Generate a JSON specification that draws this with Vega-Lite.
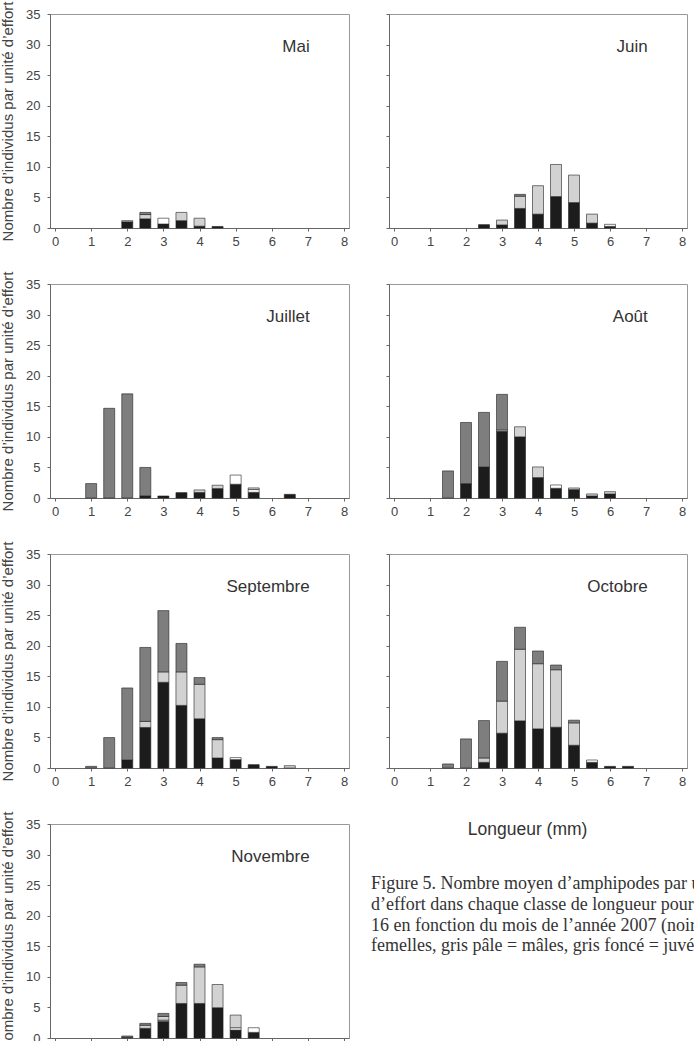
{
  "$schema": "https://vega.github.io/schema/vega-lite/v6.json",
  "background": "white",
  "padding": {"left": 0, "top": 0, "right": 0, "bottom": 0},
  "config": {
    "font": "Liberation Sans",
    "view": {"stroke": "#999", "strokeWidth": 1},
    "axis": {"labelFont": "Liberation Sans", "labelFontSize": 13, "labelColor": "#444", "labelOverlap": false, "labelFlush": false, "tickColor": "#666", "domainColor": "#666", "grid": false, "tickSize": 3, "labelPadding": 7, "titleFont": "Liberation Sans", "titleFontSize": 15, "titleFontWeight": "normal", "titleColor": "#444", "titlePadding": 10},
    "axisX": {"labelPadding": 4}
  },
  "data": {"values": [
    {"mois": "Mai", "longueur": 2.0, "groupe": "femelles", "n": 1.0},
    {"mois": "Mai", "longueur": 2.0, "groupe": "mâles", "n": 0.2},
    {"mois": "Mai", "longueur": 2.5, "groupe": "femelles", "n": 1.5},
    {"mois": "Mai", "longueur": 2.5, "groupe": "mâles", "n": 0.7},
    {"mois": "Mai", "longueur": 2.5, "groupe": "juvéniles", "n": 0.35},
    {"mois": "Mai", "longueur": 3.0, "groupe": "femelles", "n": 0.65},
    {"mois": "Mai", "longueur": 3.0, "groupe": "indéterminés", "n": 0.95},
    {"mois": "Mai", "longueur": 3.5, "groupe": "femelles", "n": 1.2},
    {"mois": "Mai", "longueur": 3.5, "groupe": "mâles", "n": 1.35},
    {"mois": "Mai", "longueur": 4.0, "groupe": "femelles", "n": 0.3},
    {"mois": "Mai", "longueur": 4.0, "groupe": "mâles", "n": 1.3},
    {"mois": "Mai", "longueur": 4.5, "groupe": "femelles", "n": 0.25},

    {"mois": "Juin", "longueur": 2.5, "groupe": "femelles", "n": 0.55},
    {"mois": "Juin", "longueur": 3.0, "groupe": "femelles", "n": 0.5},
    {"mois": "Juin", "longueur": 3.0, "groupe": "mâles", "n": 0.8},
    {"mois": "Juin", "longueur": 3.5, "groupe": "femelles", "n": 3.2},
    {"mois": "Juin", "longueur": 3.5, "groupe": "mâles", "n": 2.0},
    {"mois": "Juin", "longueur": 3.5, "groupe": "juvéniles", "n": 0.3},
    {"mois": "Juin", "longueur": 4.0, "groupe": "femelles", "n": 2.27},
    {"mois": "Juin", "longueur": 4.0, "groupe": "mâles", "n": 4.65},
    {"mois": "Juin", "longueur": 4.5, "groupe": "femelles", "n": 5.14},
    {"mois": "Juin", "longueur": 4.5, "groupe": "mâles", "n": 5.25},
    {"mois": "Juin", "longueur": 5.0, "groupe": "femelles", "n": 4.16},
    {"mois": "Juin", "longueur": 5.0, "groupe": "mâles", "n": 4.5},
    {"mois": "Juin", "longueur": 5.5, "groupe": "femelles", "n": 0.8},
    {"mois": "Juin", "longueur": 5.5, "groupe": "mâles", "n": 1.47},
    {"mois": "Juin", "longueur": 6.0, "groupe": "femelles", "n": 0.27},
    {"mois": "Juin", "longueur": 6.0, "groupe": "indéterminés", "n": 0.33},

    {"mois": "Juillet", "longueur": 1.0, "groupe": "juvéniles", "n": 2.36},
    {"mois": "Juillet", "longueur": 1.5, "groupe": "juvéniles", "n": 14.67},
    {"mois": "Juillet", "longueur": 2.0, "groupe": "juvéniles", "n": 17.03},
    {"mois": "Juillet", "longueur": 2.5, "groupe": "femelles", "n": 0.35},
    {"mois": "Juillet", "longueur": 2.5, "groupe": "juvéniles", "n": 4.65},
    {"mois": "Juillet", "longueur": 3.0, "groupe": "femelles", "n": 0.33},
    {"mois": "Juillet", "longueur": 3.5, "groupe": "femelles", "n": 0.88},
    {"mois": "Juillet", "longueur": 4.0, "groupe": "femelles", "n": 0.9},
    {"mois": "Juillet", "longueur": 4.0, "groupe": "mâles", "n": 0.42},
    {"mois": "Juillet", "longueur": 4.5, "groupe": "femelles", "n": 1.54},
    {"mois": "Juillet", "longueur": 4.5, "groupe": "mâles", "n": 0.55},
    {"mois": "Juillet", "longueur": 5.0, "groupe": "femelles", "n": 2.25},
    {"mois": "Juillet", "longueur": 5.0, "groupe": "indéterminés", "n": 1.5},
    {"mois": "Juillet", "longueur": 5.5, "groupe": "femelles", "n": 0.93},
    {"mois": "Juillet", "longueur": 5.5, "groupe": "indéterminés", "n": 0.45},
    {"mois": "Juillet", "longueur": 5.5, "groupe": "mâles", "n": 0.27},
    {"mois": "Juillet", "longueur": 6.5, "groupe": "femelles", "n": 0.6},

    {"mois": "Août", "longueur": 1.5, "groupe": "juvéniles", "n": 4.43},
    {"mois": "Août", "longueur": 2.0, "groupe": "femelles", "n": 2.35},
    {"mois": "Août", "longueur": 2.0, "groupe": "juvéniles", "n": 10.0},
    {"mois": "Août", "longueur": 2.5, "groupe": "femelles", "n": 5.08},
    {"mois": "Août", "longueur": 2.5, "groupe": "juvéniles", "n": 8.92},
    {"mois": "Août", "longueur": 3.0, "groupe": "femelles", "n": 10.93},
    {"mois": "Août", "longueur": 3.0, "groupe": "indéterminés", "n": 0.2},
    {"mois": "Août", "longueur": 3.0, "groupe": "juvéniles", "n": 5.82},
    {"mois": "Août", "longueur": 3.5, "groupe": "femelles", "n": 10.0},
    {"mois": "Août", "longueur": 3.5, "groupe": "mâles", "n": 1.65},
    {"mois": "Août", "longueur": 4.0, "groupe": "femelles", "n": 3.34},
    {"mois": "Août", "longueur": 4.0, "groupe": "mâles", "n": 1.74},
    {"mois": "Août", "longueur": 4.5, "groupe": "femelles", "n": 1.59},
    {"mois": "Août", "longueur": 4.5, "groupe": "indéterminés", "n": 0.54},
    {"mois": "Août", "longueur": 5.0, "groupe": "femelles", "n": 1.37},
    {"mois": "Août", "longueur": 5.0, "groupe": "mâles", "n": 0.27},
    {"mois": "Août", "longueur": 5.5, "groupe": "femelles", "n": 0.33},
    {"mois": "Août", "longueur": 5.5, "groupe": "mâles", "n": 0.33},
    {"mois": "Août", "longueur": 6.0, "groupe": "femelles", "n": 0.66},
    {"mois": "Août", "longueur": 6.0, "groupe": "mâles", "n": 0.38},

    {"mois": "Septembre", "longueur": 1.0, "groupe": "juvéniles", "n": 0.27},
    {"mois": "Septembre", "longueur": 1.5, "groupe": "juvéniles", "n": 4.98},
    {"mois": "Septembre", "longueur": 2.0, "groupe": "femelles", "n": 1.31},
    {"mois": "Septembre", "longueur": 2.0, "groupe": "juvéniles", "n": 11.78},
    {"mois": "Septembre", "longueur": 2.5, "groupe": "femelles", "n": 6.63},
    {"mois": "Septembre", "longueur": 2.5, "groupe": "mâles", "n": 0.99},
    {"mois": "Septembre", "longueur": 2.5, "groupe": "juvéniles", "n": 12.1},
    {"mois": "Septembre", "longueur": 3.0, "groupe": "femelles", "n": 14.02},
    {"mois": "Septembre", "longueur": 3.0, "groupe": "mâles", "n": 1.7},
    {"mois": "Septembre", "longueur": 3.0, "groupe": "juvéniles", "n": 10.02},
    {"mois": "Septembre", "longueur": 3.5, "groupe": "femelles", "n": 10.24},
    {"mois": "Septembre", "longueur": 3.5, "groupe": "mâles", "n": 5.48},
    {"mois": "Septembre", "longueur": 3.5, "groupe": "juvéniles", "n": 4.65},
    {"mois": "Septembre", "longueur": 4.0, "groupe": "femelles", "n": 8.05},
    {"mois": "Septembre", "longueur": 4.0, "groupe": "mâles", "n": 5.64},
    {"mois": "Septembre", "longueur": 4.0, "groupe": "juvéniles", "n": 1.1},
    {"mois": "Septembre", "longueur": 4.5, "groupe": "femelles", "n": 1.64},
    {"mois": "Septembre", "longueur": 4.5, "groupe": "mâles", "n": 3.0},
    {"mois": "Septembre", "longueur": 4.5, "groupe": "juvéniles", "n": 0.34},
    {"mois": "Septembre", "longueur": 5.0, "groupe": "femelles", "n": 1.37},
    {"mois": "Septembre", "longueur": 5.0, "groupe": "indéterminés", "n": 0.33},
    {"mois": "Septembre", "longueur": 5.5, "groupe": "femelles", "n": 0.55},
    {"mois": "Septembre", "longueur": 6.0, "groupe": "femelles", "n": 0.27},
    {"mois": "Septembre", "longueur": 6.5, "groupe": "mâles", "n": 0.38},

    {"mois": "Octobre", "longueur": 1.5, "groupe": "juvéniles", "n": 0.66},
    {"mois": "Octobre", "longueur": 2.0, "groupe": "juvéniles", "n": 4.76},
    {"mois": "Octobre", "longueur": 2.5, "groupe": "femelles", "n": 0.93},
    {"mois": "Octobre", "longueur": 2.5, "groupe": "mâles", "n": 0.71},
    {"mois": "Octobre", "longueur": 2.5, "groupe": "juvéniles", "n": 6.12},
    {"mois": "Octobre", "longueur": 3.0, "groupe": "femelles", "n": 5.69},
    {"mois": "Octobre", "longueur": 3.0, "groupe": "mâles", "n": 5.25},
    {"mois": "Octobre", "longueur": 3.0, "groupe": "juvéniles", "n": 6.5},
    {"mois": "Octobre", "longueur": 3.5, "groupe": "femelles", "n": 7.71},
    {"mois": "Octobre", "longueur": 3.5, "groupe": "mâles", "n": 11.71},
    {"mois": "Octobre", "longueur": 3.5, "groupe": "juvéniles", "n": 3.6},
    {"mois": "Octobre", "longueur": 4.0, "groupe": "femelles", "n": 6.4},
    {"mois": "Octobre", "longueur": 4.0, "groupe": "mâles", "n": 10.66},
    {"mois": "Octobre", "longueur": 4.0, "groupe": "juvéniles", "n": 2.08},
    {"mois": "Octobre", "longueur": 4.5, "groupe": "femelles", "n": 6.67},
    {"mois": "Octobre", "longueur": 4.5, "groupe": "mâles", "n": 9.4},
    {"mois": "Octobre", "longueur": 4.5, "groupe": "juvéniles", "n": 0.77},
    {"mois": "Octobre", "longueur": 5.0, "groupe": "femelles", "n": 3.72},
    {"mois": "Octobre", "longueur": 5.0, "groupe": "mâles", "n": 3.66},
    {"mois": "Octobre", "longueur": 5.0, "groupe": "juvéniles", "n": 0.44},
    {"mois": "Octobre", "longueur": 5.5, "groupe": "femelles", "n": 0.93},
    {"mois": "Octobre", "longueur": 5.5, "groupe": "indéterminés", "n": 0.38},
    {"mois": "Octobre", "longueur": 6.0, "groupe": "femelles", "n": 0.27},
    {"mois": "Octobre", "longueur": 6.5, "groupe": "femelles", "n": 0.27},

    {"mois": "Novembre", "longueur": 2.0, "groupe": "femelles", "n": 0.1},
    {"mois": "Novembre", "longueur": 2.0, "groupe": "juvéniles", "n": 0.23},
    {"mois": "Novembre", "longueur": 2.5, "groupe": "femelles", "n": 1.58},
    {"mois": "Novembre", "longueur": 2.5, "groupe": "mâles", "n": 0.5},
    {"mois": "Novembre", "longueur": 2.5, "groupe": "juvéniles", "n": 0.31},
    {"mois": "Novembre", "longueur": 3.0, "groupe": "femelles", "n": 2.72},
    {"mois": "Novembre", "longueur": 3.0, "groupe": "indéterminés", "n": 0.2},
    {"mois": "Novembre", "longueur": 3.0, "groupe": "mâles", "n": 0.6},
    {"mois": "Novembre", "longueur": 3.0, "groupe": "juvéniles", "n": 0.5},
    {"mois": "Novembre", "longueur": 3.5, "groupe": "femelles", "n": 5.65},
    {"mois": "Novembre", "longueur": 3.5, "groupe": "mâles", "n": 2.99},
    {"mois": "Novembre", "longueur": 3.5, "groupe": "juvéniles", "n": 0.44},
    {"mois": "Novembre", "longueur": 4.0, "groupe": "femelles", "n": 5.65},
    {"mois": "Novembre", "longueur": 4.0, "groupe": "mâles", "n": 5.98},
    {"mois": "Novembre", "longueur": 4.0, "groupe": "juvéniles", "n": 0.44},
    {"mois": "Novembre", "longueur": 4.5, "groupe": "femelles", "n": 4.95},
    {"mois": "Novembre", "longueur": 4.5, "groupe": "mâles", "n": 3.8},
    {"mois": "Novembre", "longueur": 5.0, "groupe": "femelles", "n": 1.3},
    {"mois": "Novembre", "longueur": 5.0, "groupe": "indéterminés", "n": 0.38},
    {"mois": "Novembre", "longueur": 5.0, "groupe": "mâles", "n": 2.07},
    {"mois": "Novembre", "longueur": 5.5, "groupe": "femelles", "n": 0.92},
    {"mois": "Novembre", "longueur": 5.5, "groupe": "indéterminés", "n": 0.76}
  ]},
  "transform": [
    {"calculate": "indexof(['femelles','indéterminés','mâles','juvéniles'], datum.groupe)", "as": "rang"}
  ],
  "columns": 2,
  "bounds": "flush",
  "spacing": {"row": 56, "column": 40},
  "concat": [
    {"width": 299, "height": 214, "transform": [{"filter": "datum.mois === 'Mai'"}], "layer": [
      {"mark": {"type": "bar", "width": 11, "stroke": "#222", "strokeWidth": 0.6},
       "encoding": {
         "x": {"field": "longueur", "type": "quantitative", "scale": {"domain": [0, 8], "nice": false, "zero": false}, "axis": {"values": [0,1,2,3,4,5,6,7,8], "tickCount": 20, "format": "d", "title": null, "labelOverlap": false}},
         "y": {"field": "n", "type": "quantitative", "stack": "zero", "scale": {"domain": [0, 35], "nice": false}, "axis": {"values": [0,5,10,15,20,25,30,35], "tickCount": 20, "format": "d", "labelOverlap": false, "title": "Nombre d’individus par unité d’effort"}},
         "color": {"field": "groupe", "type": "nominal", "scale": {"domain": ["femelles","indéterminés","mâles","juvéniles"], "range": ["#1c1c1c","#ffffff","#d2d2d2","#7e7e7e"]}, "legend": null},
         "order": {"field": "rang", "type": "quantitative"}}},
      {"data": {"values": [{}]}, "mark": {"type": "text", "text": "Mai", "align": "right", "baseline": "middle", "fontSize": 17, "color": "#333"},
       "encoding": {"x": {"datum": 7.05, "type": "quantitative"}, "y": {"datum": 29.6, "type": "quantitative"}}}
    ]},
    {"width": 298, "height": 214, "transform": [{"filter": "datum.mois === 'Juin'"}], "layer": [
      {"mark": {"type": "bar", "width": 11, "stroke": "#222", "strokeWidth": 0.6},
       "encoding": {
         "x": {"field": "longueur", "type": "quantitative", "scale": {"domain": [0, 8], "nice": false, "zero": false}, "axis": {"values": [0,1,2,3,4,5,6,7,8], "tickCount": 20, "format": "d", "title": null, "labelOverlap": false}},
         "y": {"field": "n", "type": "quantitative", "stack": "zero", "scale": {"domain": [0, 35], "nice": false}, "axis": {"values": [0,5,10,15,20,25,30,35], "tickCount": 20, "title": null, "labels": false}},
         "color": {"field": "groupe", "type": "nominal", "scale": {"domain": ["femelles","indéterminés","mâles","juvéniles"], "range": ["#1c1c1c","#ffffff","#d2d2d2","#7e7e7e"]}, "legend": null},
         "order": {"field": "rang", "type": "quantitative"}}},
      {"data": {"values": [{}]}, "mark": {"type": "text", "text": "Juin", "align": "right", "baseline": "middle", "fontSize": 17, "color": "#333"},
       "encoding": {"x": {"datum": 7.05, "type": "quantitative"}, "y": {"datum": 29.6, "type": "quantitative"}}}
    ]},
    {"width": 299, "height": 214, "transform": [{"filter": "datum.mois === 'Juillet'"}], "layer": [
      {"mark": {"type": "bar", "width": 11, "stroke": "#222", "strokeWidth": 0.6},
       "encoding": {
         "x": {"field": "longueur", "type": "quantitative", "scale": {"domain": [0, 8], "nice": false, "zero": false}, "axis": {"values": [0,1,2,3,4,5,6,7,8], "tickCount": 20, "format": "d", "title": null, "labelOverlap": false}},
         "y": {"field": "n", "type": "quantitative", "stack": "zero", "scale": {"domain": [0, 35], "nice": false}, "axis": {"values": [0,5,10,15,20,25,30,35], "tickCount": 20, "format": "d", "labelOverlap": false, "title": "Nombre d’individus par unité d’effort"}},
         "color": {"field": "groupe", "type": "nominal", "scale": {"domain": ["femelles","indéterminés","mâles","juvéniles"], "range": ["#1c1c1c","#ffffff","#d2d2d2","#7e7e7e"]}, "legend": null},
         "order": {"field": "rang", "type": "quantitative"}}},
      {"data": {"values": [{}]}, "mark": {"type": "text", "text": "Juillet", "align": "right", "baseline": "middle", "fontSize": 17, "color": "#333"},
       "encoding": {"x": {"datum": 7.05, "type": "quantitative"}, "y": {"datum": 29.6, "type": "quantitative"}}}
    ]},
    {"width": 298, "height": 214, "transform": [{"filter": "datum.mois === 'Août'"}], "layer": [
      {"mark": {"type": "bar", "width": 11, "stroke": "#222", "strokeWidth": 0.6},
       "encoding": {
         "x": {"field": "longueur", "type": "quantitative", "scale": {"domain": [0, 8], "nice": false, "zero": false}, "axis": {"values": [0,1,2,3,4,5,6,7,8], "tickCount": 20, "format": "d", "title": null, "labelOverlap": false}},
         "y": {"field": "n", "type": "quantitative", "stack": "zero", "scale": {"domain": [0, 35], "nice": false}, "axis": {"values": [0,5,10,15,20,25,30,35], "tickCount": 20, "title": null, "labels": false}},
         "color": {"field": "groupe", "type": "nominal", "scale": {"domain": ["femelles","indéterminés","mâles","juvéniles"], "range": ["#1c1c1c","#ffffff","#d2d2d2","#7e7e7e"]}, "legend": null},
         "order": {"field": "rang", "type": "quantitative"}}},
      {"data": {"values": [{}]}, "mark": {"type": "text", "text": "Août", "align": "right", "baseline": "middle", "fontSize": 17, "color": "#333"},
       "encoding": {"x": {"datum": 7.05, "type": "quantitative"}, "y": {"datum": 29.6, "type": "quantitative"}}}
    ]},
    {"width": 299, "height": 214, "transform": [{"filter": "datum.mois === 'Septembre'"}], "layer": [
      {"mark": {"type": "bar", "width": 11, "stroke": "#222", "strokeWidth": 0.6},
       "encoding": {
         "x": {"field": "longueur", "type": "quantitative", "scale": {"domain": [0, 8], "nice": false, "zero": false}, "axis": {"values": [0,1,2,3,4,5,6,7,8], "tickCount": 20, "format": "d", "title": null, "labelOverlap": false}},
         "y": {"field": "n", "type": "quantitative", "stack": "zero", "scale": {"domain": [0, 35], "nice": false}, "axis": {"values": [0,5,10,15,20,25,30,35], "tickCount": 20, "format": "d", "labelOverlap": false, "title": "Nombre d’individus par unité d’effort"}},
         "color": {"field": "groupe", "type": "nominal", "scale": {"domain": ["femelles","indéterminés","mâles","juvéniles"], "range": ["#1c1c1c","#ffffff","#d2d2d2","#7e7e7e"]}, "legend": null},
         "order": {"field": "rang", "type": "quantitative"}}},
      {"data": {"values": [{}]}, "mark": {"type": "text", "text": "Septembre", "align": "right", "baseline": "middle", "fontSize": 17, "color": "#333"},
       "encoding": {"x": {"datum": 7.05, "type": "quantitative"}, "y": {"datum": 29.6, "type": "quantitative"}}}
    ]},
    {"width": 298, "height": 214, "transform": [{"filter": "datum.mois === 'Octobre'"}], "layer": [
      {"mark": {"type": "bar", "width": 11, "stroke": "#222", "strokeWidth": 0.6},
       "encoding": {
         "x": {"field": "longueur", "type": "quantitative", "scale": {"domain": [0, 8], "nice": false, "zero": false}, "axis": {"values": [0,1,2,3,4,5,6,7,8], "tickCount": 20, "format": "d", "title": null, "labelOverlap": false}},
         "y": {"field": "n", "type": "quantitative", "stack": "zero", "scale": {"domain": [0, 35], "nice": false}, "axis": {"values": [0,5,10,15,20,25,30,35], "tickCount": 20, "title": null, "labels": false}},
         "color": {"field": "groupe", "type": "nominal", "scale": {"domain": ["femelles","indéterminés","mâles","juvéniles"], "range": ["#1c1c1c","#ffffff","#d2d2d2","#7e7e7e"]}, "legend": null},
         "order": {"field": "rang", "type": "quantitative"}}},
      {"data": {"values": [{}]}, "mark": {"type": "text", "text": "Octobre", "align": "right", "baseline": "middle", "fontSize": 17, "color": "#333"},
       "encoding": {"x": {"datum": 7.05, "type": "quantitative"}, "y": {"datum": 29.6, "type": "quantitative"}}}
    ]},
    {"width": 299, "height": 214, "transform": [{"filter": "datum.mois === 'Novembre'"}], "layer": [
      {"mark": {"type": "bar", "width": 11, "stroke": "#222", "strokeWidth": 0.6},
       "encoding": {
         "x": {"field": "longueur", "type": "quantitative", "scale": {"domain": [0, 8], "nice": false, "zero": false}, "axis": {"values": [0,1,2,3,4,5,6,7,8], "tickCount": 20, "format": "d", "title": null, "labelOverlap": false}},
         "y": {"field": "n", "type": "quantitative", "stack": "zero", "scale": {"domain": [0, 35], "nice": false}, "axis": {"values": [0,5,10,15,20,25,30,35], "tickCount": 20, "format": "d", "labelOverlap": false, "title": "Nombre d’individus par unité d’effort"}},
         "color": {"field": "groupe", "type": "nominal", "scale": {"domain": ["femelles","indéterminés","mâles","juvéniles"], "range": ["#1c1c1c","#ffffff","#d2d2d2","#7e7e7e"]}, "legend": null},
         "order": {"field": "rang", "type": "quantitative"}}},
      {"data": {"values": [{}]}, "mark": {"type": "text", "text": "Novembre", "align": "right", "baseline": "middle", "fontSize": 17, "color": "#333"},
       "encoding": {"x": {"datum": 7.05, "type": "quantitative"}, "y": {"datum": 29.6, "type": "quantitative"}}}
    ]},
    {"width": 298, "height": 214, "data": {"values": [{}]}, "view": {"stroke": null}, "layer": [
      {"mark": {"type": "text", "text": "Longueur (mm)", "align": "center", "baseline": "middle", "fontSize": 17.5, "color": "#333"},
       "encoding": {
         "x": {"datum": 3.72, "type": "quantitative", "scale": {"domain": [0, 8], "nice": false, "zero": false}, "axis": null},
         "y": {"datum": 34, "type": "quantitative", "scale": {"domain": [0, 35], "nice": false}, "axis": null}}},
      {"mark": {"type": "text", "text": ["Figure 5. Nombre moyen d’amphipodes par unité", "d’effort dans chaque classe de longueur pour la station", "16 en fonction du mois de l’année 2007 (noir =", "femelles, gris pâle = mâles, gris foncé = juvéniles)."], "font": "Liberation Serif", "fontSize": 18, "lineHeight": 20.7, "align": "left", "baseline": "top", "color": "#333"},
       "encoding": {
         "x": {"datum": -0.48, "type": "quantitative"},
         "y": {"datum": 26.6, "type": "quantitative"}}}
    ]}
  ]
}
